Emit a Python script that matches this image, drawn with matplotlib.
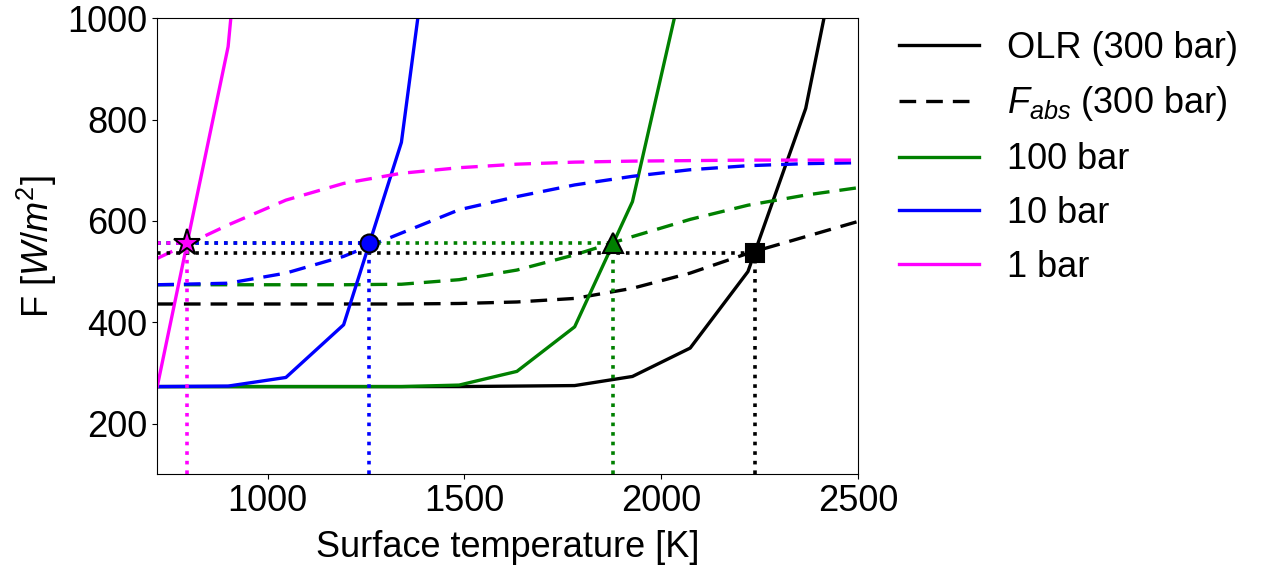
import numpy as np
import matplotlib
matplotlib.use('Agg')
import matplotlib.pyplot as plt

# surface temperature grid [K]
T = [720, 900, 1046.7, 1193.3, 1340, 1486.7, 1633.3, 1780, 1926.7, 2073.3, 2220, 2366.7, 2513.3]
nan = np.nan

# outgoing longwave radiation [W/m2]
olr_300 = [273, 273, 273, 273, 273, 273, 274, 275, 293, 349, 500, 822, 1385]
olr_100 = [273, 273, 273, 273, 273, 276, 303, 391, 638, 1137, nan, nan, nan]
olr_10 = [273, 274, 291, 395, 755, 1618, nan, nan, nan, nan, nan, nan, nan]
olr_1 = [273, 944, 2150, nan, nan, nan, nan, nan, nan, nan, nan, nan, nan]

# absorbed stellar flux [W/m2]
fabs_300 = [436, 436, 436, 436, 436, 437, 440, 447, 467, 497, 536, 569, 602]
fabs_100 = [474, 474, 474, 474, 475, 484, 503, 533, 569, 603, 631, 651, 667]
fabs_10 = [474, 477, 497, 530, 576, 622, 648, 671, 688, 701, 709, 713, 715]
fabs_1 = [526, 592, 641, 674, 694, 705, 712, 716, 718, 719, 720, 720, 720]

# equilibrium points (300, 100, 10, 1 bar)
T_eq = [2238, 1878, 1257, 795]
F_eq = [537, 556, 556, 556]

colors = ['black', 'green', 'blue', 'magenta']
markers = ['s', '^', 'o', '*']
msizes = [13, 14, 13, 20]
labels = ['OLR (300 bar)', '100 bar', '10 bar', '1 bar']

plt.rcParams['font.family'] = ['Liberation Sans', 'DejaVu Sans']
plt.rcParams['mathtext.fontset'] = 'custom'
plt.rcParams['mathtext.rm'] = 'Liberation Sans'
plt.rcParams['mathtext.it'] = 'Liberation Sans:italic'
plt.rcParams['font.size'] = 26

fig = plt.figure(figsize=(12.63, 5.70), dpi=100)
ax = fig.add_axes([0.1245, 0.168, 0.555, 0.800])

xmin, xmax = 720, 2500
ymin, ymax = 100, 1000
lw = 2.4

olrs = [olr_300, olr_100, olr_10, olr_1]
fabss = [fabs_300, fabs_100, fabs_10, fabs_1]

for olr, fabs, c, lab in zip(olrs, fabss, colors, labels):
    ax.plot(T, olr, color=c, lw=lw, label=lab)
    ax.plot(T, fabs, color=c, lw=lw, dashes=(5, 3),
            label=r'$F_{abs}$ (300 bar)' if c == 'black' else None)

for te, fe, c, m, ms in zip(T_eq, F_eq, colors, markers, msizes):
    ax.plot([xmin, te], [fe, fe], color=c, lw=2.6, ls=':')
    ax.plot([te, te], [ymin, fe], color=c, lw=2.6, ls=':')
    ax.plot(te, fe, marker=m, color=c, ms=ms, mec='black', mew=1.5, zorder=5)

ax.set_xlim(xmin, xmax)
ax.set_ylim(ymin, ymax)
ax.set_xticks([1000, 1500, 2000, 2500])
ax.set_yticks([200, 400, 600, 800, 1000])
ax.set_xlabel('Surface temperature [K]', labelpad=8)
ax.set_ylabel(r'F [$W/m^2$]', labelpad=6)

ax.legend(loc='upper left', bbox_to_anchor=(1.012, 1.044), frameon=False,
          handlelength=2.2, handletextpad=0.8, labelspacing=0.52)

plt.savefig('out.png', dpi=100)
plt.close()
